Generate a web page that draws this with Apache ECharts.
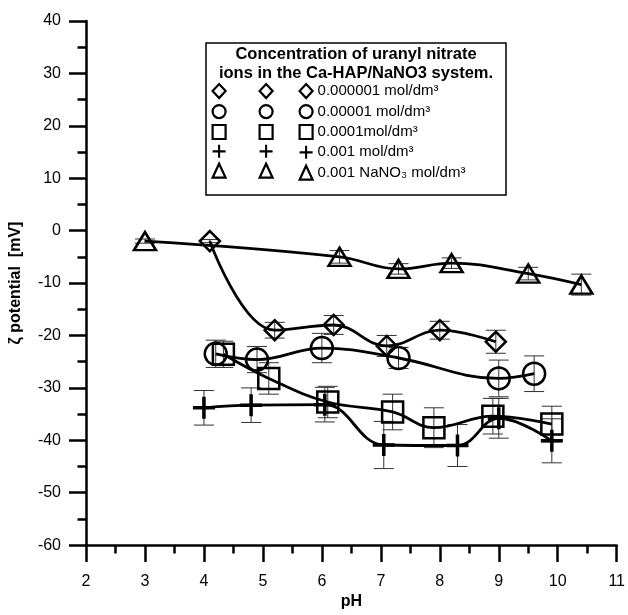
<!DOCTYPE html>
<html>
<head>
<meta charset="utf-8">
<script src="https://cdn.jsdelivr.net/npm/echarts@6/dist/echarts.min.js"></script>
<style>
  html, body { margin: 0; padding: 0; background: #fff; }
  #chart { width: 628px; height: 615px; }
</style>
</head>
<body>
<div id="chart"></div>
<script>
// values: pH, zeta potential [mV], error half-width
const names = [
  '0.000001 mol/dm³',
  '0.00001 mol/dm³',
  '0.0001mol/dm³',
  '0.001 mol/dm³',
  '0.001 NaNO₃ mol/dm³'
];

const phDiamond = [4.1, 5.2, 6.2, 7.1, 8.0, 8.95];
const zetaDiamond = [-2.0, -19.0, -18.0, -22.0, -19.0, -21.2];
const errDiamond = [0.3, 1.5, 1.8, 2.0, 1.7, 2.2];

const phCircle = [4.2, 4.9, 6.0, 7.3, 9.0, 9.6];
const zetaCircle = [-23.5, -24.6, -22.4, -24.3, -28.2, -27.3];
const errCircle = [2.6, 2.5, 2.8, 2.0, 3.5, 3.4];

const phSquare = [4.33, 5.1, 6.1, 7.2, 7.9, 8.9, 9.9];
const zetaSquare = [-23.6, -28.2, -32.7, -34.6, -37.6, -35.4, -36.9];
const errSquare = [2.5, 3.0, 3.0, 3.4, 3.8, 3.4, 3.4];

const phCross = [4.0, 4.8, 6.05, 7.05, 8.3, 9.0, 9.9];
const zetaCross = [-33.8, -33.3, -33.2, -40.9, -41.0, -35.8, -40.1];
const errCross = [3.3, 3.3, 3.3, 4.5, 4.0, 3.8, 4.2];

const phTriangle = [3.0, 6.3, 7.3, 8.2, 9.5, 10.4];
const zetaTriangle = [-2.0, -5.0, -7.3, -6.2, -8.2, -10.3];
const errTriangle = [0.4, 1.2, 1.0, 1.0, 1.2, 2.0];

const crossPath = 'path://M8.4,0H11.6V8.4H20V11.6H11.6V20H8.4V11.6H0V8.4H8.4Z';

const sets = [
  { ph: phDiamond, zeta: zetaDiamond, err: errDiamond, symbol: 'diamond', size: [20, 20], hollow: true },
  { ph: phCircle, zeta: zetaCircle, err: errCircle, symbol: 'circle', size: 22, hollow: true },
  { ph: phSquare, zeta: zetaSquare, err: errSquare, symbol: 'rect', size: 21, hollow: true },
  { ph: phCross, zeta: zetaCross, err: errCross, symbol: crossPath, size: 22, hollow: false },
  { ph: phTriangle, zeta: zetaTriangle, err: errTriangle, symbol: 'triangle', size: [22, 18], hollow: true }
];

const font = 'Arial, "Liberation Sans", sans-serif';

function markerStyle(hollow, bw) {
  return hollow
    ? { color: 'rgba(0,0,0,0)', borderColor: '#000', borderWidth: bw }
    : { color: '#000', borderWidth: 0 };
}

function errorBars(params, api) {
  const x = api.value(0), y = api.value(1), e = api.value(2);
  const top = api.coord([x, y + e]);
  const bot = api.coord([x, y - e]);
  const w = 10;
  const style = { stroke: '#333', lineWidth: 1 };
  return {
    type: 'group',
    children: [
      { type: 'line', shape: { x1: top[0], y1: top[1], x2: bot[0], y2: bot[1] }, style: style },
      { type: 'line', shape: { x1: top[0] - w, y1: top[1], x2: top[0] + w, y2: top[1] }, style: style },
      { type: 'line', shape: { x1: bot[0] - w, y1: bot[1], x2: bot[0] + w, y2: bot[1] }, style: style }
    ]
  };
}

const series = [];
sets.forEach((s, i) => {
  series.push({
    name: names[i] + ' err',
    type: 'custom',
    renderItem: errorBars,
    data: s.ph.map((p, k) => [p, s.zeta[k], s.err[k]]),
    z: 1,
    silent: true
  });
});
sets.forEach((s, i) => {
  series.push({
    name: names[i],
    type: 'line',
    smooth: 0.4,
    symbol: s.symbol,
    symbolSize: s.size,
    showAllSymbol: true,
    lineStyle: { color: '#000', width: 2.8 },
    itemStyle: markerStyle(s.hollow, 2.5),
    data: s.ph.map((p, k) => [p, s.zeta[k]]),
    z: 3
  });
});

const legendIcons = ['diamond', 'circle', 'rect', crossPath, 'triangle'];
const legendData = names.map((n, i) => ({
  name: n,
  icon: legendIcons[i],
  itemStyle: markerStyle(i !== 3, 2.2)
}));

function makeLegend(left, showText) {
  return {
    left: left,
    top: 83,
    orient: 'vertical',
    padding: 0,
    itemGap: 4.75,
    itemWidth: 13,
    itemHeight: 14,
    textGap: 3,
    selectedMode: false,
    data: legendData,
    formatter: showText ? (n) => n : () => '',
    textStyle: { fontFamily: font, fontSize: 15, lineHeight: 14, color: '#000' }
  };
}

const chart = echarts.init(document.getElementById('chart'));
chart.setOption({
  animation: false,
  grid: { left: 85, right: 9, top: 21, bottom: 61 },
  xAxis: {
    type: 'value',
    min: 2,
    max: 11,
    interval: 1,
    name: 'pH',
    nameLocation: 'middle',
    nameGap: 44,
    nameTextStyle: { fontFamily: font, fontSize: 16, fontWeight: 'bold', color: '#000' },
    axisLine: { onZero: false, lineStyle: { color: '#000', width: 2.5 } },
    axisTick: { length: 17, lineStyle: { color: '#000', width: 2.5 } },
    minorTick: { show: true, splitNumber: 2, length: 8.5, lineStyle: { color: '#000', width: 2.5 } },
    splitLine: { show: false },
    axisLabel: { margin: 28, fontFamily: font, fontSize: 16, color: '#000' }
  },
  yAxis: {
    type: 'value',
    min: -60,
    max: 40,
    interval: 10,
    name: 'ζ potential  [mV]',
    nameLocation: 'middle',
    nameGap: 62,
    nameTextStyle: { fontFamily: font, fontSize: 16, fontWeight: 'bold', color: '#000' },
    axisLine: { onZero: false, lineStyle: { color: '#000', width: 2.5 } },
    axisTick: { length: 17, lineStyle: { color: '#000', width: 2.5 } },
    minorTick: { show: true, splitNumber: 2, length: 8.5, lineStyle: { color: '#000', width: 2.5 } },
    splitLine: { show: false },
    axisLabel: { margin: 25, fontFamily: font, fontSize: 16, color: '#000' }
  },
  legend: [makeLegend(211.5, false), makeLegend(258.5, false), makeLegend(298.5, true)],
  graphic: [
    {
      type: 'rect',
      shape: { x: 206, y: 43, width: 300, height: 152 },
      style: { fill: 'rgba(0,0,0,0)', stroke: '#000', lineWidth: 1.5 },
      z: 0
    },
    {
      type: 'text',
      x: 356,
      y: 64,
      style: {
        text: 'Concentration of uranyl nitrate\nions in the Ca-HAP/NaNO3 system.',
        align: 'center',
        verticalAlign: 'middle',
        lineHeight: 18.3,
        font: 'bold 16.5px ' + font,
        fill: '#000'
      }
    }
  ],
  series: series
});
</script>
</body>
</html>
